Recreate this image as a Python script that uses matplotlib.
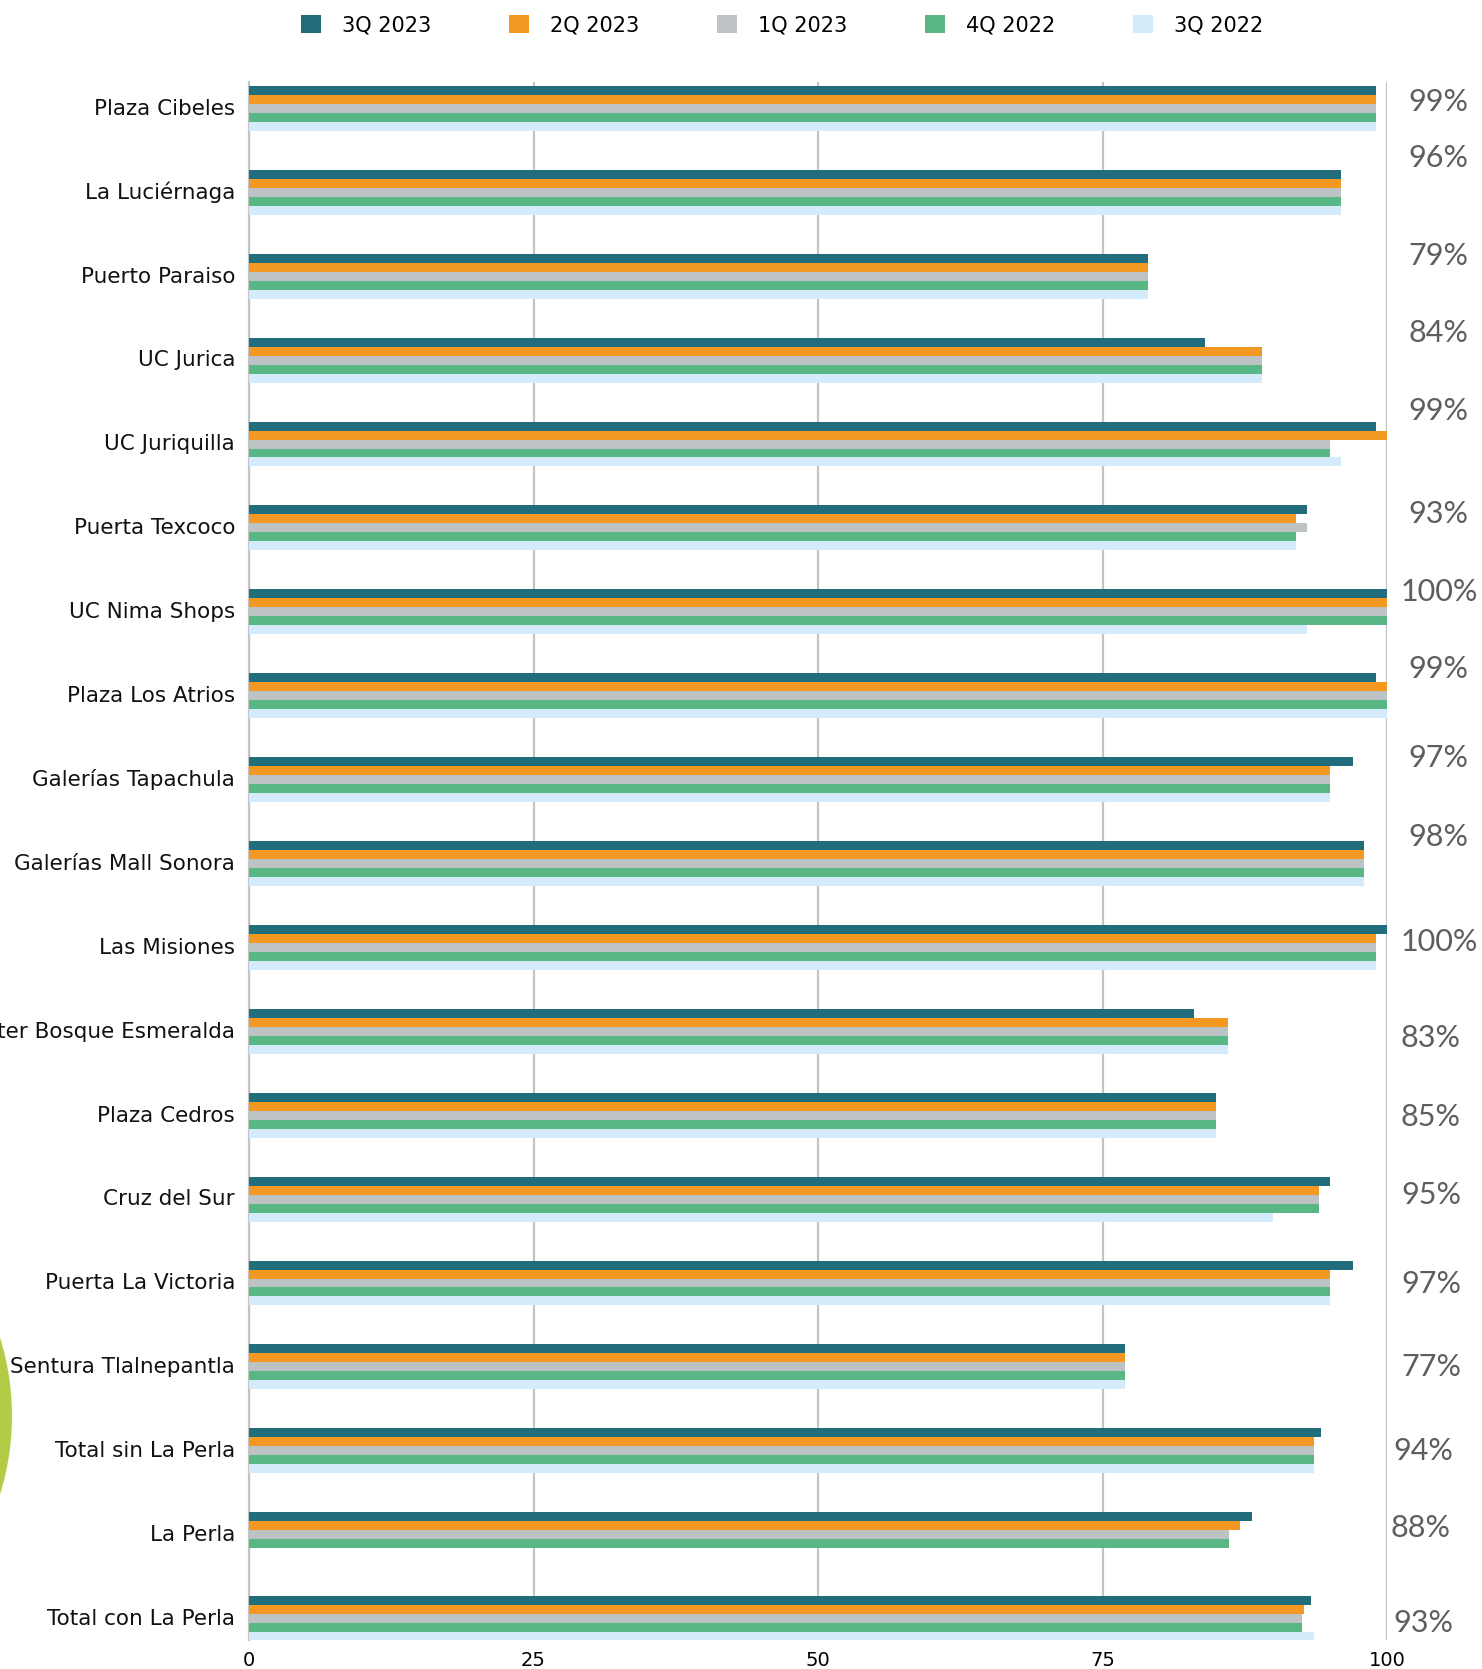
import matplotlib
matplotlib.use("Agg")
import matplotlib.pyplot as plt
from matplotlib.patches import Circle, Patch
import numpy as np

plt.rcParams['font.family'] = ['DejaVu Sans']

categories = ["Plaza Cibeles", "La Luciérnaga", "Puerto Paraiso", "UC Jurica", "UC Juriquilla",
              "Puerta Texcoco", "UC Nima Shops", "Plaza Los Atrios", "Galerías Tapachula",
              "Galerías Mall Sonora", "Las Misiones", "Urban Center Bosque Esmeralda", "Plaza Cedros",
              "Cruz del Sur", "Puerta La Victoria", "Sentura Tlalnepantla", "Total sin La Perla",
              "La Perla", "Total con La Perla"]
series_names = ["3Q 2023", "2Q 2023", "1Q 2023", "4Q 2022", "3Q 2022"]
q3_2023 = [99, 96, 79, 84, 99, 93, 100, 99, 97, 98, 100, 83, 85, 95, 97, 77, 94.2, 88.1, 93.3]
q2_2023 = [99, 96, 79, 89, 100, 92, 100, 100, 95, 98, 99, 86, 85, 94, 95, 77, 93.6, 87.1, 92.7]
q1_2023 = [99, 96, 79, 89, 95, 93, 100, 100, 95, 98, 99, 86, 85, 94, 95, 77, 93.6, 86.1, 92.5]
q4_2022 = [99, 96, 79, 89, 95, 92, 100, 100, 95, 98, 99, 86, 85, 94, 95, 77, 93.6, 86.1, 92.5]
q3_2022 = [99, 96, 79, 89, 96, 92, 93, 100, 95, 98, 99, 86, 85, 90, 95, 77, 93.6, 0, 93.6]
pct_labels = ["99%", "96%", "79%", "84%", "99%", "93%", "100%", "99%", "97%", "98%", "100%",
              "83%", "85%", "95%", "97%", "77%", "94%", "88%", "93%"]
x_ticks = [0, 25, 50, 75, 100]

colors = ["#216d7b", "#f39822", "#bdc2c5", "#58b784", "#d3ebfb"]

W, H = 1482, 1669
fig = plt.figure(figsize=(W / 100, H / 100), dpi=100)
ax = fig.add_axes([249 / W, 1 - 1640 / H, (1387 - 249) / W, (1640 - 82) / H])

# decorative circle at left edge
fig.patches.append(Circle((-196 / W, 1 - 1416 / H), 208 / W, transform=fig.transFigure,
                          facecolor="#b3cc47", edgecolor="none", zorder=0))

series = [q3_2023, q2_2023, q1_2023, q4_2022, q3_2022]
n = len(categories)
y = np.arange(n)
bh = 0.107
for k, (vals, c, name) in enumerate(zip(series, colors, series_names)):
    ax.barh(y - 2 * bh + k * bh + 0.02, vals, height=bh, color=c, label=name, zorder=3)

ax.set_xlim(0, 100)
ax.set_ylim(n - 1 + 0.275, -0.295)
ax.set_xticks(x_ticks)
ax.set_xticklabels([str(t) for t in x_ticks], fontsize=14)
ax.set_yticks(y)
ax.set_yticklabels(categories, fontsize=15.5, color="#111111")
ax.tick_params(axis="both", length=0, pad=8)
ax.tick_params(axis="y", pad=10)
ax.xaxis.grid(True, color="#c4c4c4", linewidth=1.6, zorder=0)
ax.set_axisbelow(True)
for s in ["top", "bottom", "right"]:
    ax.spines[s].set_visible(False)
ax.spines["left"].set_color("#c4c4c4")
ax.spines["left"].set_linewidth(1.6)

# right-side percentage annotations
label_y_px = [102, 158, 256, 333, 411, 514, 592, 669, 758, 837, 942, 1038, 1117, 1195, 1284,
              1367, 1451, 1528, 1623]
label_x_px = [1408, 1408, 1408, 1408, 1408, 1408, 1401, 1408, 1408, 1408, 1401, 1401, 1401,
              1401, 1401, 1401, 1393, 1391, 1393]
for txt, xp, yp in zip(pct_labels, label_x_px, label_y_px):
    fig.text(xp / W, 1 - yp / H, txt, fontsize=22, color="#5e5e5e", ha="left", va="center",
             family=["Lato", "DejaVu Sans"])

handles = [Patch(facecolor=c, edgecolor="none") for c in colors]
fig.legend(handles, series_names, loc="center", bbox_to_anchor=(782 / W, 1 - 25 / H),
           ncol=5, frameon=False, fontsize=15, handlelength=1.0, handleheight=1.0,
           handletextpad=1.0, columnspacing=3.7)

fig.savefig("out.png", dpi=100)
